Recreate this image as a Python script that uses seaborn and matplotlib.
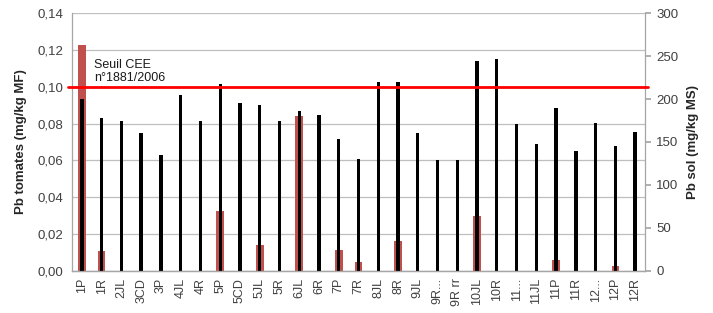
import matplotlib
matplotlib.use("Agg")
import matplotlib.pyplot as plt
import matplotlib.transforms as mtransforms
from matplotlib.ticker import FuncFormatter, MultipleLocator
import seaborn as sns
import pandas as pd

categories = ["1P", "1R", "2JL", "3CD", "3P", "4JL", "4R", "5P", "5CD", "5JL", "5R",
              "6JL", "6R", "7P", "7R", "8JL", "8R", "9JL", "9R...", "9R rr", "10JL",
              "10R", "11...", "11JL", "11P", "11R", "12...", "12P", "12R"]
pb_tomates = [0.1226, 0.0109, 0, 0, 0, 0, 0, 0.0327, 0, 0.0142, 0,
              0.0839, 0, 0.0114, 0.0049, 0, 0.0160, 0, 0, 0, 0.0300,
              0, 0, 0, 0.0056, 0, 0, 0.0026, 0]
pb_sol = [200, 178, 175, 160, 135, 205, 174, 218, 195, 193, 175,
          186, 181, 153, 130, 220, 220, 160, 129, 129, 244,
          247, 171, 148, 190, 140, 172, 145, 162]
seuil = 0.10
seuil_label = "Seuil CEE\nn°1881/2006"

df = pd.DataFrame({"cat": categories, "tom": pb_tomates, "sol": pb_sol})

sns.set_theme(style="white")
plt.rcParams['font.family'] = ['Liberation Sans', 'DejaVu Sans']

fig, ax = plt.subplots(figsize=(7.13, 3.13), dpi=100)
fig.subplots_adjust(left=72/713, right=645/713, top=1-13.3/313, bottom=1-270.7/313)

sns.barplot(data=df, x="cat", y="tom", ax=ax, color="#C0504D", width=0.39,
            saturation=1, zorder=2, linewidth=0, edgecolor="none")
ax2 = ax.twinx()
sns.barplot(data=df, x="cat", y="sol", ax=ax2, color="#000000", width=0.17,
            saturation=1, zorder=2, linewidth=0, edgecolor="none")

ax.set_xlim(-0.5, len(categories) - 0.5)
ax.set_ylim(0, 0.14)
ax2.set_ylim(0, 300)
ax.yaxis.set_major_locator(MultipleLocator(0.02))
ax2.yaxis.set_major_locator(MultipleLocator(50))
ax.yaxis.set_major_formatter(FuncFormatter(lambda v, p: f"{v:.2f}".replace(".", ",")))

ax.yaxis.grid(True, color="#BFBFBF", linewidth=0.9)
ax.set_axisbelow(True)

grey = "#A6A6A6"
for a in (ax, ax2):
    a.spines["top"].set_visible(False)
    for s in ("left", "right", "bottom"):
        a.spines[s].set_color(grey)
        a.spines[s].set_linewidth(0.9)
ax.spines["right"].set_visible(False)
ax2.spines["left"].set_visible(False)

ax.tick_params(axis="y", length=0, labelsize=9.5, colors="#404040", pad=6)
ax2.tick_params(axis="y", right=True, length=4, color=grey, labelsize=9.5,
                labelcolor="#404040", pad=4, direction="out")
ax.tick_params(axis="x", length=0, labelsize=9, labelcolor="#404040",
               rotation=90, pad=5)

ax.set_xlabel("")
ax.set_ylabel("Pb tomates (mg/kg MF)", fontsize=9.5, fontweight="bold", labelpad=8)
ax2.set_ylabel("Pb sol (mg/kg MS)", fontsize=9.5, fontweight="bold", labelpad=6,
               rotation=90)

trans = mtransforms.blended_transform_factory(ax2.transAxes, ax.transData)
ax2.plot([-0.007, 1.005], [seuil, seuil], color="#FF0000", linewidth=2,
         transform=trans, clip_on=False, zorder=5)

ax.text(0.62, seuil + 0.0015, seuil_label, fontsize=9, color="#1a1a1a",
        ha="left", va="bottom", linespacing=1.15, zorder=6)

fig.savefig("out.png", dpi=100)
